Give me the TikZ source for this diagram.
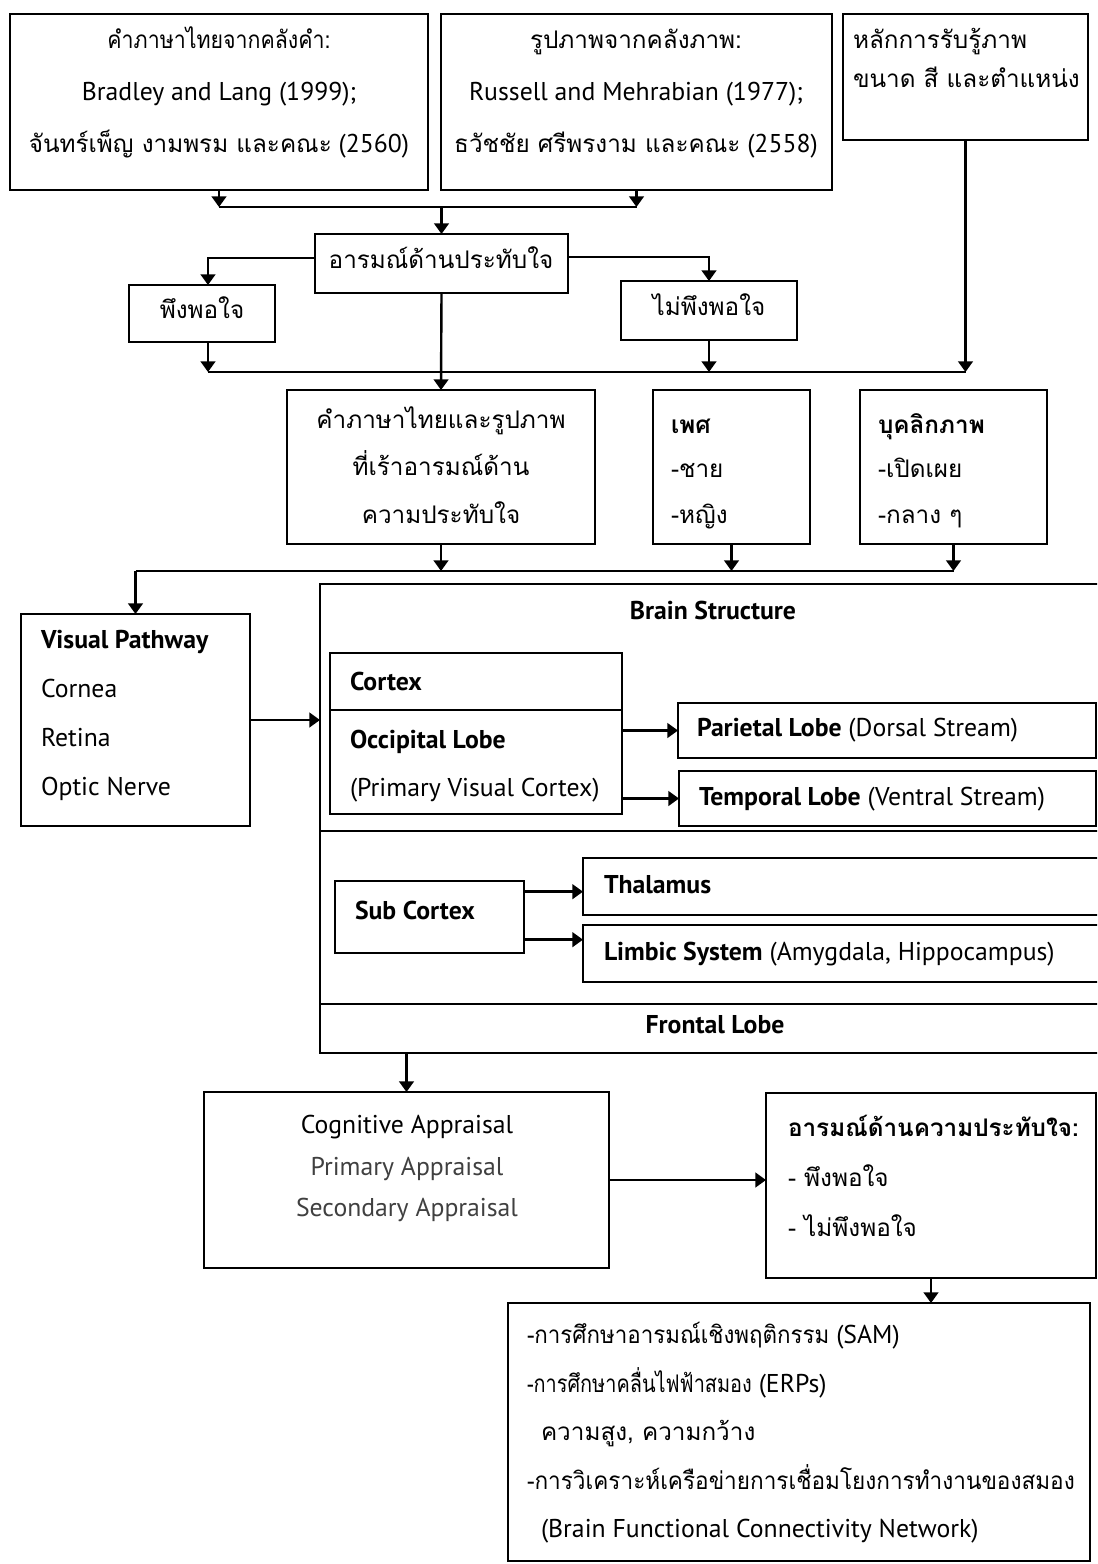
\documentclass[tikz,border=0pt]{standalone}
\usepackage{graphicx}
\usepackage{fontspec}
\setmainfont{PT Sans}
\newfontfamily\thai[Script=Thai]{Loma}
\usetikzlibrary{arrows.meta}
\newcommand\latf{\fontsize{19.3pt}{23pt}\selectfont}
\newcommand\thf{\thai\fontsize{18.2pt}{22pt}\selectfont}
\newcommand\sqz[2]{\scalebox{#1}[1]{#2}}
\newcommand\mkbox[5]{\node[boxst, minimum width={(#4-#2)*0.75pt}, minimum height={(#5-#3)*0.75pt}] (#1) at ({(#2+#4)/2},{(#3+#5)/2}) {};}
\begin{document}
\begin{tikzpicture}[x=0.75pt,y=-0.75pt,
  boxst/.style={draw, line width=1pt, inner sep=0pt, outer sep=0pt, rectangle},
  conn/.style={line width=1.8pt},
  arr/.style={conn, -{Triangle[width=11pt,length=8pt]}},
  txt/.style={inner sep=0pt, outer sep=0pt, font=\latf, anchor=mid},
  txtl/.style={txt, anchor=mid west},
  thtxt/.style={txt, font=\thf},
  thtxtl/.style={txtl, font=\thf},
  grey/.style={text=black!75}]
\useasboundingbox (0,0) rectangle (1097,1564);
\clip (0,0) rectangle (1097,1564);
% boxes
\mkbox{A}{10}{14}{428}{190}
\mkbox{B}{441}{14}{832}{190}
\mkbox{C}{843}{14}{1088}{140}
\mkbox{D}{315}{234}{568}{293}
\mkbox{E}{129}{285}{275}{342}
\mkbox{F}{621}{281}{797}{340}
\mkbox{G}{287}{390}{595}{544}
\mkbox{H}{653}{390}{810}{544}
\mkbox{I}{860}{390}{1047}{544}
\mkbox{VP}{21}{614}{250}{826}
\mkbox{BS}{320}{584}{1120}{1053}
\mkbox{CX}{330}{653}{622}{814}
\mkbox{PL}{678}{703}{1096}{758}
\mkbox{TL}{679}{771}{1096}{826}
\mkbox{SC}{335}{881}{524}{953}
\mkbox{TH}{583}{858}{1110}{915}
\mkbox{LS}{583}{925}{1110}{982}
\mkbox{CA}{204}{1092}{609}{1268}
\mkbox{EM}{766}{1093}{1096}{1278}
\mkbox{RS}{508}{1303}{1090}{1561}
% inner dividing lines
\draw[line width=1pt] (330,710) -- (622,710);
\draw[line width=1pt] (320,831) -- (1120,831);
\draw[line width=1pt] (320,1004) -- (1120,1004);
% texts
\node[thtxt] (a1) at (219,45) {\sqz{0.88}{คำภาษาไทยจากคลังคำ:}};
\node[txt] (a2) at (219,97) {Bradley and Lang (1999);};
\node[txt] (a3) at (219,149) {{\thf จันทร์เพ็ญ งามพรม และคณะ} (2560)};
\node[thtxt] (b1) at (636,45) {รูปภาพจากคลังภาพ:};
\node[txt] (b2) at (636,97) {Russell and Mehrabian (1977);};
\node[txt] (b3) at (636,149) {{\thf ธวัชชัย ศรีพรงาม และคณะ} (2558)};
\node[thtxtl] (c1) at (853,45) {หลักการรับรู้ภาพ};
\node[thtxtl] (c2) at (853,84) {ขนาด สี และตำแหน่ง};
\node[thtxt] (d1) at (441,265) {อารมณ์ด้านประทับใจ};
\node[thtxt] (e1) at (202,315) {พึงพอใจ};
\node[thtxt] (f1) at (709,312) {ไม่พึงพอใจ};
\node[thtxt] (g1) at (441,425) {คำภาษาไทยและรูปภาพ};
\node[thtxt] (g2) at (441,472) {ที่เร้าอารมณ์ด้าน};
\node[thtxt] (g3) at (441,520) {ความประทับใจ};
\node[thtxtl] (h1) at (671,430) {\bfseries เพศ};
\node[thtxtl] (h2) at (671,474) {-ชาย};
\node[thtxtl] (h3) at (671,520) {-หญิง};
\node[thtxtl] (i1) at (878,430) {\bfseries บุคลิกภาพ};
\node[thtxtl] (i2) at (878,474) {-เปิดเผย};
\node[thtxtl] (i3) at (878,520) {-กลาง ๆ};
\node[txtl] (v1) at (41,645) {\bfseries Visual Pathway};
\node[txtl] (v2) at (41,694) {Cornea};
\node[txtl] (v3) at (41,743) {Retina};
\node[txtl] (v4) at (41,792) {Optic Nerve};
\node[txt] (bs1) at (713,616) {\bfseries Brain Structure};
\node[txtl] (cx1) at (350,687) {\bfseries Cortex};
\node[txtl] (cx2) at (350,745) {\bfseries Occipital Lobe};
\node[txtl] (cx3) at (350,793) {(Primary Visual Cortex)};
\node[txtl] (pl1) at (697,733) {\textbf{Parietal Lobe} (Dorsal Stream)};
\node[txtl] (tl1) at (699,802) {\textbf{Temporal Lobe} (Ventral Stream)};
\node[txtl] (sc1) at (355,916) {\bfseries Sub Cortex};
\node[txtl] (th1) at (604,890) {\bfseries Thalamus};
\node[txtl] (ls1) at (604,957) {\textbf{Limbic System} (Amygdala, Hippocampus)};
\node[txt] (fl1) at (715,1030) {\bfseries Frontal Lobe};
\node[txt] (ca1) at (407,1130) {Cognitive Appraisal};
\node[txt, grey] (ca2) at (407,1172) {Primary Appraisal};
\node[txt, grey] (ca3) at (407,1213) {Secondary Appraisal};
\node[thtxtl] (em1) at (788,1133) {\bfseries อารมณ์ด้านความประทับใจ:};
\node[thtxtl] (em2) at (788,1183) {- พึงพอใจ};
\node[thtxtl] (em3) at (788,1233) {- ไม่พึงพอใจ};
\node[txtl] (r1) at (527,1340) {{\thf\sqz{0.92}{-การศึกษาอารมณ์เชิงพฤติกรรม}} (SAM)};
\node[txtl] (r2) at (527,1389) {{\thf\sqz{0.82}{-การศึกษาคลื่นไฟฟ้าสมอง}} (ERPs)};
\node[thtxtl] (r3) at (541,1437) {ความสูง, ความกว้าง};
\node[thtxtl] (r4) at (527,1486) {\sqz{0.93}{-การวิเคราะห์เครือข่ายการเชื่อมโยงการทำงานของสมอง}};
\node[txtl] (r5) at (541,1534) {(Brain Functional Connectivity Network)};
% connectors
\coordinate (j1) at (219,207);
\coordinate (j2) at (636.5,207);
\coordinate (jm) at (441.5,207);
\draw[arr] (A.south) -- (j1);
\draw[arr] (B.south) -- (j2);
\draw[conn] (j1) -- (j2);
\draw[arr] (jm) -- (D.north);
\draw[arr] ([yshift=4pt]D.west) -| ([xshift=4.5pt]E.north);
\draw[arr] ([yshift=5pt]D.east) -| (F.north);
\coordinate (k1) at (208,372);
\coordinate (k2) at (965.5,372);
\draw[conn] (k1) -- (k2);
\draw[arr] ([xshift=4.5pt]E.south) -- (k1);
\draw[arr] (F.south) -- (F.south |- k1);
\draw[arr] (C.south) -- (k2);
\draw[arr] (D.south) -- (G.north);
\coordinate (m1) at (135.5,571);
\coordinate (m2) at (953.5,571);
\draw[conn] (m1) -- (m2);
\draw[arr] (G.south) -- (G.south |- m1);
\draw[arr] (H.south) -- (H.south |- m1);
\draw[arr] (I.south) -- (m2);
\draw[arr] (m1) -- (VP.north);
\draw[arr] (VP.east) -- (VP.east -| BS.west);
\draw[arr] (CX.east |- PL.west) -- (PL.west);
\draw[arr] (CX.east |- TL.west) -- (TL.west);
\draw[arr] ([yshift=19pt]SC.east) -- ([yshift=19pt]SC.east -| TH.west);
\draw[arr] ([yshift=-17pt]SC.east) -- ([yshift=-17pt]SC.east -| LS.west);
\draw[arr] (BS.south -| CA.north) -- (CA.north);
\draw[arr] (CA.east) -- (CA.east -| EM.west);
\draw[arr] (EM.south) -- (EM.south |- RS.north);
\end{tikzpicture}
\end{document}
